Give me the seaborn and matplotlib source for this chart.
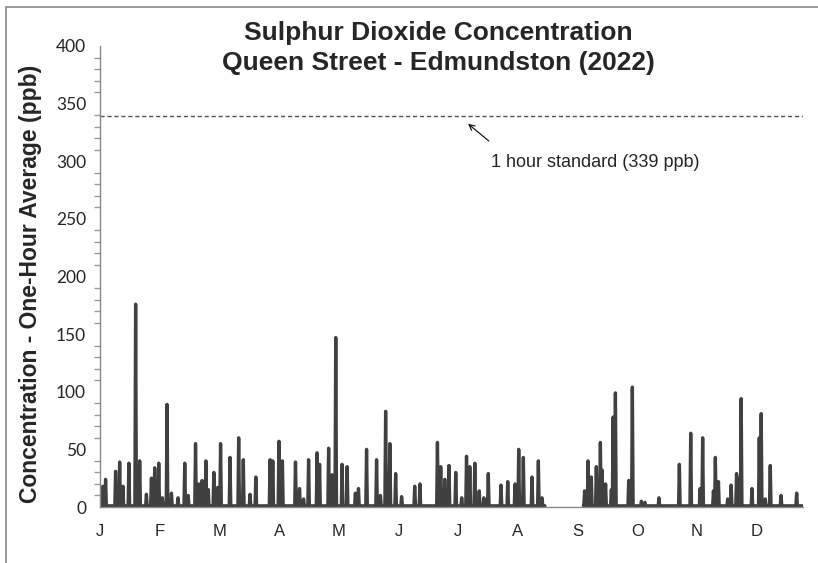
import pandas as pd
import matplotlib.pyplot as plt
import seaborn as sns
from matplotlib.patches import Rectangle
from matplotlib.ticker import MultipleLocator

# hourly SO2 peaks: day of year (0 = Jan 1) and ppb
peak_day = [1.5, 2.9, 8.1, 10.2, 11.9, 15.0, 18.5, 20.6, 24.1, 26.7, 28.4, 30.5, 32.4, 34.8,
            37.1, 40.5, 44.0, 45.8, 49.6, 51.3, 53.0, 55.0, 56.2, 59.1, 61.1, 62.6, 67.5, 72.0,
            74.4, 77.9, 80.9, 88.3, 89.7, 92.9, 94.7, 101.5, 103.6, 105.7, 108.3, 112.7, 114.0,
            118.7, 120.5, 122.4, 125.7, 128.3, 132.6, 134.2, 138.4, 143.6, 145.6, 148.3, 150.5,
            153.5, 156.6, 163.4, 166.1, 175.2, 176.9, 179.0, 181.2, 184.7, 187.8, 190.3, 192.0,
            194.6, 196.9, 199.3, 201.6, 208.2, 211.7, 215.5, 217.4, 219.8, 224.3, 227.6, 229.5,
            251.6, 253.4, 255.1, 257.7, 259.8, 260.7, 262.5, 265.5, 266.4, 267.6, 274.5, 276.4,
            281.1, 282.9, 290.2, 300.8, 306.7, 311.6, 312.9, 318.5, 319.5, 321.1, 325.9, 327.7,
            330.5, 331.8, 332.9, 338.5, 342.3, 343.3, 345.4, 348.0, 353.6, 361.7]
peak_ppb = [18, 24, 31, 39, 18, 38, 176, 40, 11, 25, 34, 38, 8, 89,
            12, 8, 38, 10, 55, 20, 23, 40, 15, 30, 17, 55, 43, 60,
            41, 11, 26, 41, 40, 57, 40, 39, 16, 7, 41, 47, 37,
            51, 28, 147, 37, 35, 12, 16, 50, 41, 10, 83, 55,
            29, 9, 18, 20, 56, 35, 24, 36, 30, 8, 44, 35,
            38, 14, 8, 29, 19, 22, 20, 50, 43, 26, 40, 8,
            14, 40, 26, 35, 56, 32, 20, 15, 78, 99, 23, 104,
            5, 4, 8, 37, 64, 16, 60, 14, 43, 22, 7, 19,
            29, 25, 94, 16, 60, 81, 7, 36, 10, 12]

# periods with valid data (day of year); monitor was down late Aug - early Sep
valid_start = [0, 251]
valid_end = [231, 365]
background_ppb = 1

month_labels = ['J', 'F', 'M', 'A', 'M', 'J', 'J', 'A', 'S', 'O', 'N', 'D']
standard_ppb = 339

rows = []
for seg, (s, e) in enumerate(zip(valid_start, valid_end)):
    rows.append((seg, s, background_ppb))
    for d, v in zip(peak_day, peak_ppb):
        if s <= d <= e:
            rows += [(seg, d - 0.4, background_ppb), (seg, d, v), (seg, d + 0.4, background_ppb)]
    rows.append((seg, e, background_ppb))
df = pd.DataFrame(rows, columns=['segment', 'day', 'ppb'])

sns.set_style('white')
fig = plt.figure(figsize=(8.18, 5.63), dpi=100)
ax = fig.add_axes([100 / 818, 1 - 507 / 563, 703 / 818, 461 / 563])

sns.lineplot(data=df, x='day', y='ppb', units='segment', estimator=None, sort=False,
             color='#404040', linewidth=2.4, ax=ax, legend=False)

ax.axhline(standard_ppb, color='#505050', linewidth=1, linestyle=(0, (3, 2)))
ax.annotate('', xy=(190, 334), xytext=(203, 316),
            arrowprops=dict(arrowstyle='->', color='black', lw=0.8))
ax.text(203, 298.5, '1 hour standard (339 ppb)', fontsize=13, family='Liberation Sans',
        va='center', ha='left')

ax.set_xlim(0, 365)
ax.set_ylim(0, 400)
ax.set_xticks([31 * i for i in range(12)])
ax.set_xticklabels(month_labels, family='Liberation Sans', fontsize=12)
ax.tick_params(axis='x', length=0, pad=12)
ax.yaxis.set_major_locator(MultipleLocator(50))
ax.yaxis.set_minor_locator(MultipleLocator(10))
ax.tick_params(axis='y', which='major', length=6, width=1, color='#888888', pad=4, labelsize=12.5)
ax.tick_params(axis='y', which='minor', length=4, width=1, color='#999999', left=True)
for lab in ax.get_yticklabels():
    lab.set_family('Lato')

for side in ['top', 'right']:
    ax.spines[side].set_visible(False)
for side in ['left', 'bottom']:
    ax.spines[side].set_color('#888888')
    ax.spines[side].set_linewidth(1)

ax.set_xlabel('')
ax.set_ylabel('Concentration - One-Hour Average (ppb)', fontsize=16.5, fontweight='bold',
              family='Liberation Sans')
ax.yaxis.set_label_coords(-0.082, 0.485)

fig.text(438 / 818, 1 - 48 / 563, 'Sulphur Dioxide Concentration\nQueen Street - Edmundston (2022)',
         ha='center', va='center', fontsize=19, fontweight='bold', family='Liberation Sans',
         linespacing=1.3)

# chart area border (cropped at right and bottom)
fig.add_artist(Rectangle((6 / 818, -0.1), 1.2, 1 - 7 / 563 + 0.1, transform=fig.transFigure,
                         fill=False, edgecolor='#888888', linewidth=1.2))

fig.savefig('out.png', dpi=100)
